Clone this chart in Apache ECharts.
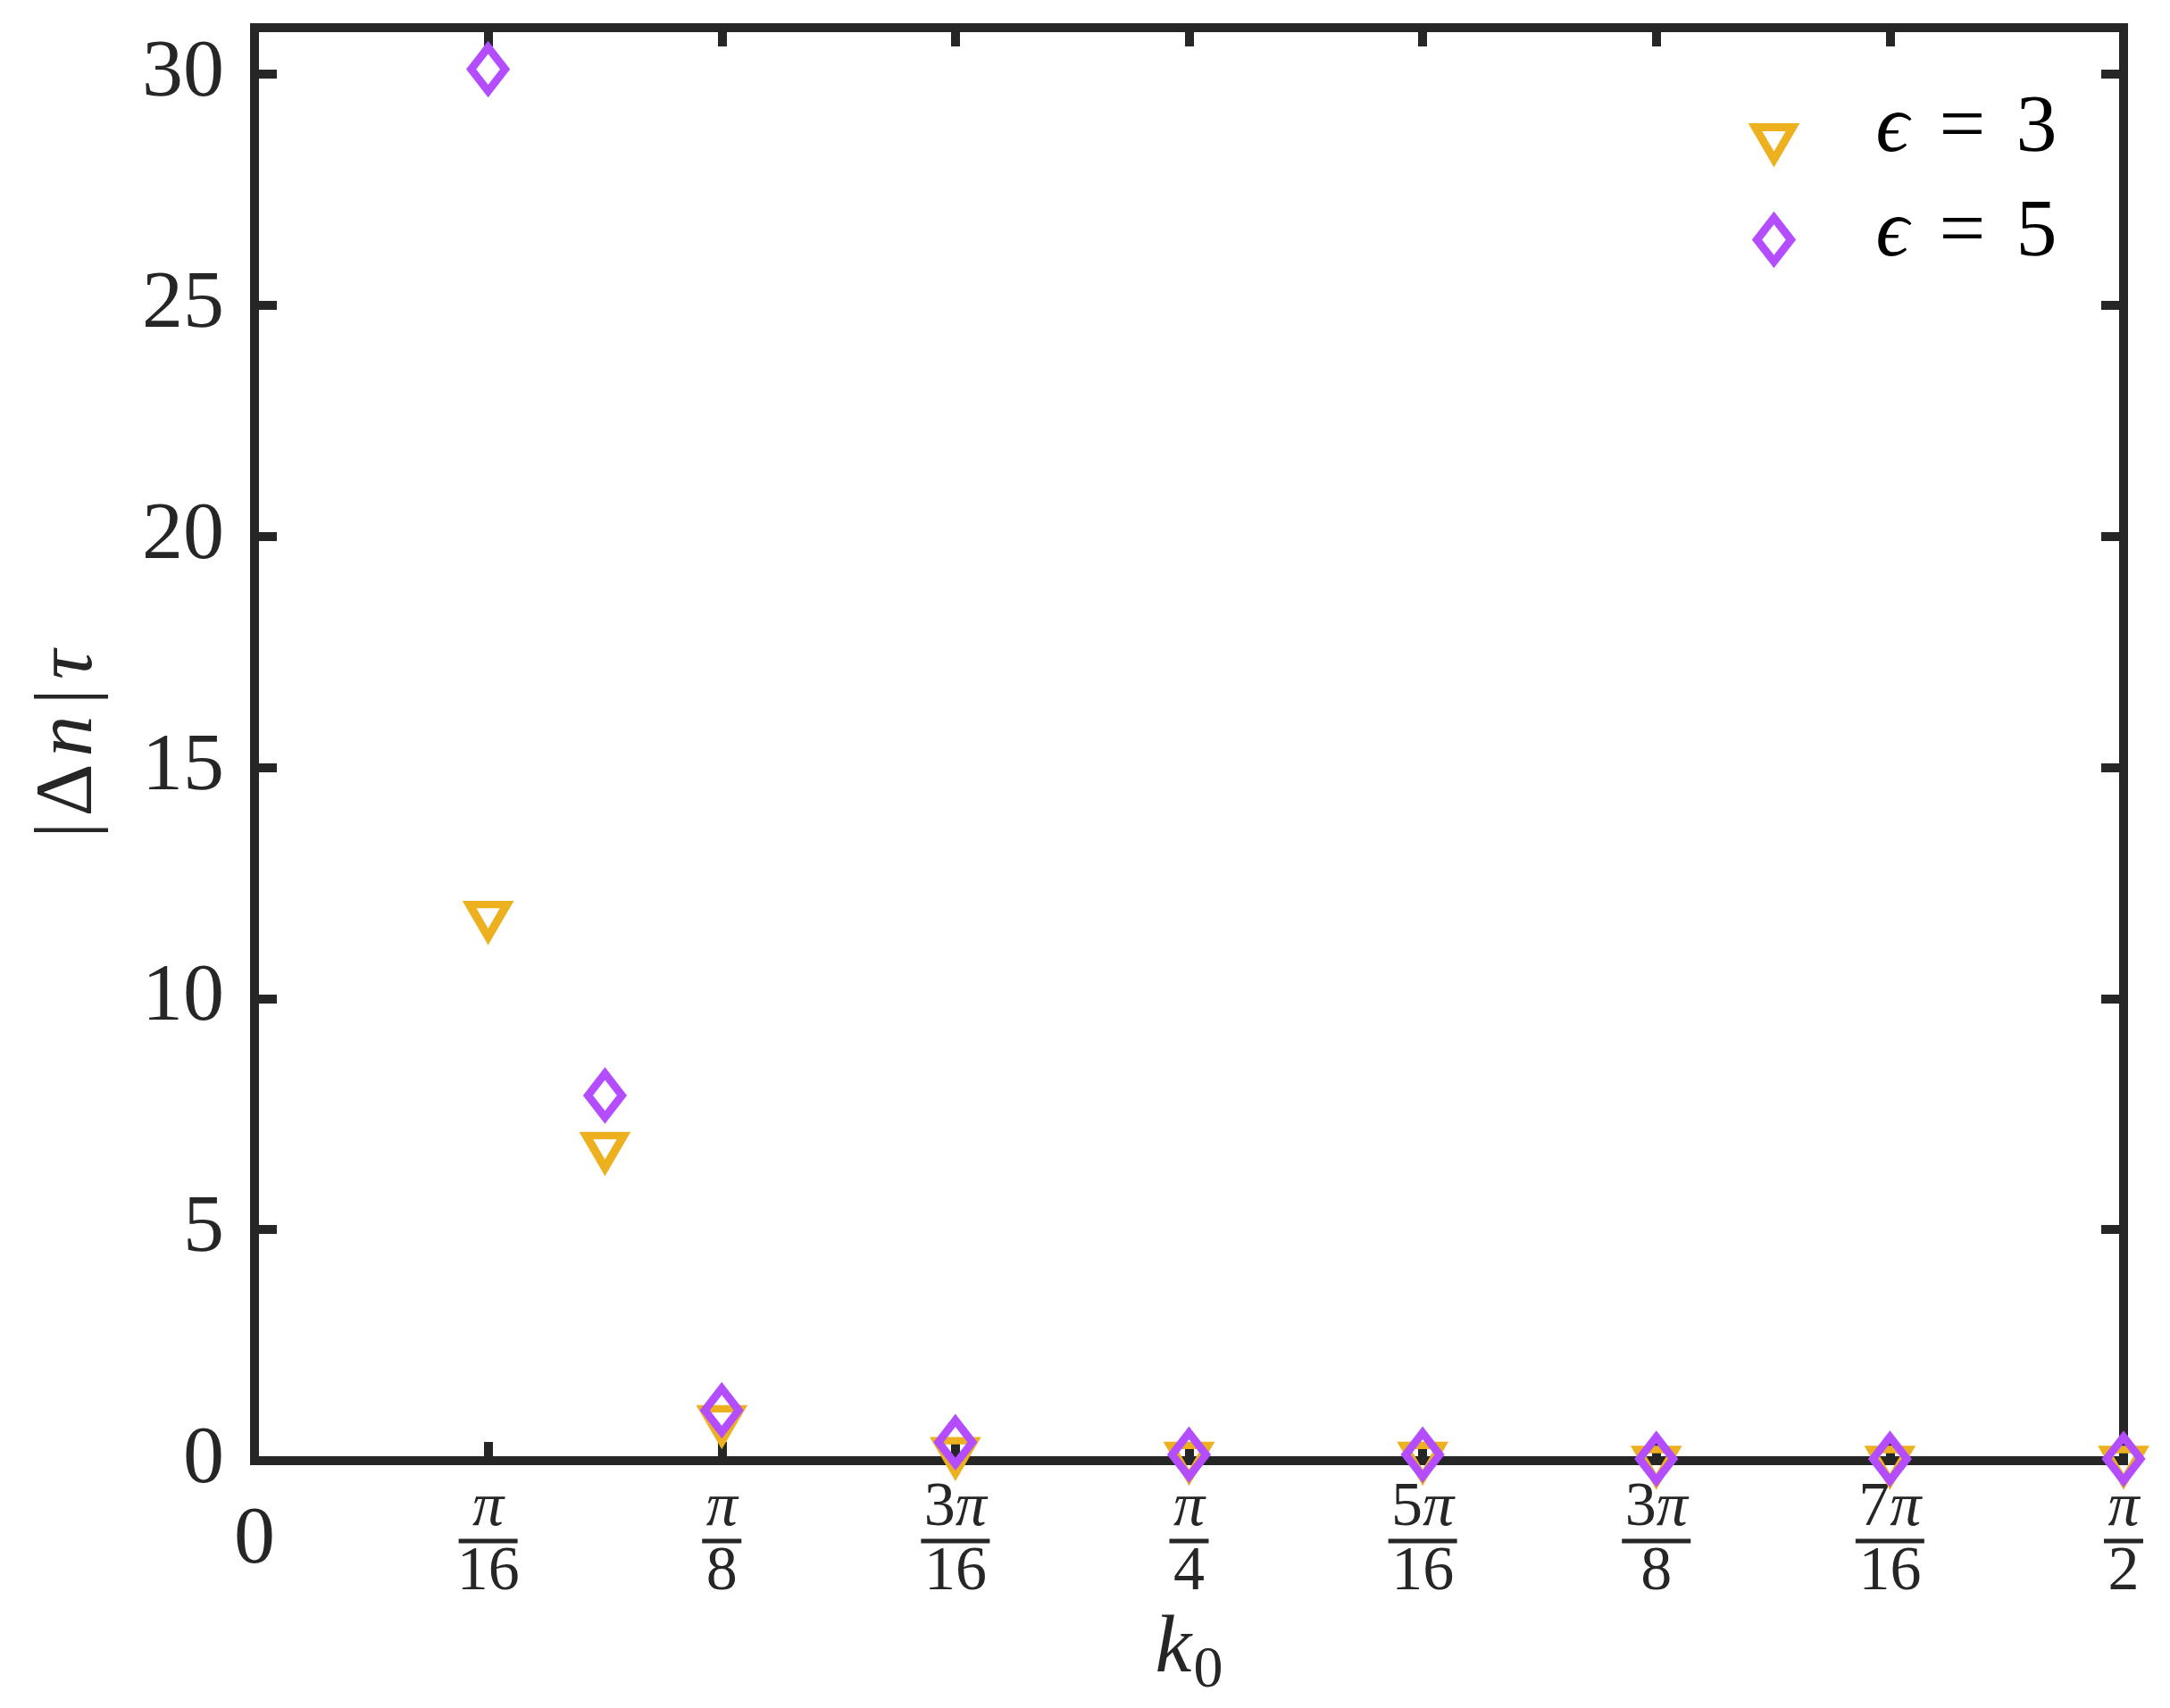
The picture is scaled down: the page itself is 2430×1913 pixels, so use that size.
<!DOCTYPE html>
<html>
<head>
<meta charset="utf-8">
<script src="https://cdn.jsdelivr.net/npm/echarts@6/dist/echarts.min.js"></script>
<style>html,body{margin:0;padding:0;background:#fff}#c{width:2430px;height:1913px}</style>
</head>
<body>
<div id="c"></div>
<script>
// k0 positions in units of pi/16
const k0Values = [1, 1.5, 2, 3, 4, 5, 6, 7, 8];
const eps3Values = [11.80, 6.80, 0.89, 0.20, 0.10, 0.10, 0.01, 0.01, 0.01];
const eps5Values = [30.10, 7.90, 1.09, 0.40, 0.13, 0.13, 0.04, 0.04, 0.04];
const seriesNames = ['ϵ = 3', 'ϵ = 5'];
const legendNumbers = ['3', '5'];
// x tick labels (numerator, denominator) at multiples of pi/16
const xTickNum = ['0', 'π', 'π', '3π', 'π', '5π', '3π', '7π', 'π'];
const xTickDen = ['', '16', '8', '16', '4', '16', '8', '16', '2'];
const yTicks = [0, 5, 10, 15, 20, 25, 30];

const FONT = "'Liberation Serif', 'DejaVu Serif', serif";
const INK = '#262626';
const C3 = '#EDB120';
const C5 = '#B44CFF';

function numRich(s) {
  let out = '';
  for (const ch of s) out += ch === 'π' ? '{p|π}' : '{n|' + ch + '}';
  return out;
}
function barStyle(num, den) {
  const w = (s) => { let t = 0; for (const ch of s) t += ch === 'π' ? 38 : 34; return t; };
  const m = Math.max(w(num), w(den));
  return m > 70 ? 'b3' : (m > 40 ? 'b2' : 'b1');
}

const chart = echarts.init(document.getElementById('c'), null, {renderer: 'canvas'});
const axisLineStyle = {color: INK, width: 10, cap: 'square'};
const option = {
  animation: false,
  backgroundColor: '#fff',
  grid: {left: 285, right: 52, top: 31, bottom: 277, containLabel: false},
  xAxis: [{
    type: 'value', min: 0, max: 8, interval: 1, position: 'bottom',
    axisLine: {show: true, onZero: false, lineStyle: axisLineStyle},
    axisTick: {show: true, inside: true, length: 21, lineStyle: {color: INK, width: 10}},
    splitLine: {show: false},
    axisLabel: {
      margin: 90, verticalAlign: 'middle', color: INK, fontFamily: FONT,
      formatter: function (v) {
        const i = Math.round(v);
        if (Math.abs(v - i) > 1e-6 || i < 0 || i >= xTickNum.length) return '';
        if (!xTickDen[i]) return '{z|' + xTickNum[i] + '}';
        return numRich(xTickNum[i]) + '\n{' + barStyle(xTickNum[i], xTickDen[i]) + '| }\n{d|' + xTickDen[i] + '}';
      },
      rich: {
        z: {fontSize: 92, fontFamily: FONT, color: INK},
        n: {fontSize: 70, lineHeight: 66, fontFamily: FONT, color: INK},
        p: {fontSize: 70, lineHeight: 66, fontFamily: FONT, fontStyle: 'italic', color: INK},
        d: {fontSize: 70, lineHeight: 66, fontFamily: FONT, color: INK},
        b1: {width: 44, height: 5, lineHeight: 6, fontSize: 1, backgroundColor: INK},
        b2: {width: 66, height: 5, lineHeight: 6, fontSize: 1, backgroundColor: INK},
        b3: {width: 77, height: 5, lineHeight: 6, fontSize: 1, backgroundColor: INK}
      }
    },
    name: '{k|k}{s|0}', nameLocation: 'middle', nameGap: 206,
    nameTextStyle: {
      verticalAlign: 'middle', color: INK,
      rich: {
        k: {fontSize: 92, fontFamily: FONT, fontStyle: 'italic', color: INK},
        s: {fontSize: 66, fontFamily: FONT, color: INK, padding: [47, 0, 0, 2]}
      }
    }
  }, {
    type: 'value', min: 0, max: 8, interval: 1, position: 'top',
    axisLine: {show: true, onZero: false, lineStyle: axisLineStyle},
    axisTick: {show: true, inside: true, length: 21, lineStyle: {color: INK, width: 10}},
    splitLine: {show: false}, axisLabel: {show: false}
  }],
  yAxis: [{
    type: 'value', min: 0, max: 31, interval: 5, position: 'left',
    axisLine: {show: true, onZero: false, lineStyle: axisLineStyle},
    axisTick: {show: true, inside: true, length: 25, lineStyle: {color: INK, width: 10}},
    splitLine: {show: false},
    axisLabel: {
      margin: 34, fontSize: 92, fontFamily: FONT, color: INK,
      formatter: function (v) { return yTicks.indexOf(v) >= 0 ? String(v) : ''; }
    },
    name: '{a||}{a2|Δ}{i|n}{a3||}{i2|τ}', nameLocation: 'middle', nameGap: 207,
    nameTextStyle: {
      verticalAlign: 'middle', color: INK,
      rich: {
        a: {fontSize: 92, fontFamily: FONT, color: INK, padding: [0, 6, 0, 0]},
        a2: {fontSize: 92, fontFamily: FONT, color: INK, padding: [0, 8, 0, 0]},
        i: {fontSize: 92, fontFamily: FONT, fontStyle: 'italic', color: INK, padding: [0, 12, 0, 0]},
        a3: {fontSize: 92, fontFamily: FONT, color: INK, padding: [0, 10, 0, 0]},
        i2: {fontSize: 92, fontFamily: FONT, fontStyle: 'italic', color: INK}
      }
    }
  }, {
    type: 'value', min: 0, max: 31, interval: 5, position: 'right',
    axisLine: {show: true, onZero: false, lineStyle: axisLineStyle},
    axisTick: {show: true, inside: true, length: 25, lineStyle: {color: INK, width: 10}},
    splitLine: {show: false}, axisLabel: {show: false}
  }],
  legend: [0, 1].map(function (k) {
    const tri = k === 0;
    return {
      data: [{name: seriesNames[k], icon: tri ? 'path://M0,0 L2,0 L1,1.714 Z' : 'path://M1,0 L2,1.29 L1,2.58 L0,1.29 Z'}],
      orient: 'vertical', padding: 0,
      left: tri ? 1961 : 1963, top: tri ? 99 : 215.5,
      itemWidth: tri ? 42 : 38, itemHeight: tri ? 36 : 49,
      selectedMode: false,
      symbolRotate: 0,
      itemStyle: {color: 'rgba(0,0,0,0)', borderColor: tri ? C3 : C5, borderWidth: 9},
      formatter: function () { return '{i|ϵ}{e|=}{n|' + legendNumbers[k] + '}'; },
      textStyle: {
        color: '#000', fontSize: 92, fontFamily: FONT,
        padding: tri ? [0, 0, 31, 88] : [0, 0, 14, 90],
        rich: {
          i: {fontSize: 92, fontFamily: FONT, fontStyle: 'italic', color: '#000'},
          e: {fontSize: 92, fontFamily: FONT, color: '#000', padding: [0, 34, 0, 34]},
          n: {fontSize: 92, fontFamily: FONT, color: '#000'}
        }
      }
    };
  }),
  series: [{
    name: seriesNames[0], type: 'scatter',
    data: k0Values.map(function (x, i) { return [x, eps3Values[i]]; }),
    symbol: 'triangle', symbolRotate: 180, symbolSize: [42, 36], symbolOffset: [0, 6],
    itemStyle: {color: 'rgba(0,0,0,0)', borderColor: C3, borderWidth: 9, opacity: 1},
    emphasis: {disabled: true}, z: 3
  }, {
    name: seriesNames[1], type: 'scatter',
    data: k0Values.map(function (x, i) { return [x, eps5Values[i]]; }),
    symbol: 'diamond', symbolSize: [38, 49],
    itemStyle: {color: 'rgba(0,0,0,0)', borderColor: C5, borderWidth: 9, opacity: 1},
    emphasis: {disabled: true}, z: 4
  }]
};
chart.setOption(option);
</script>
</body>
</html>
